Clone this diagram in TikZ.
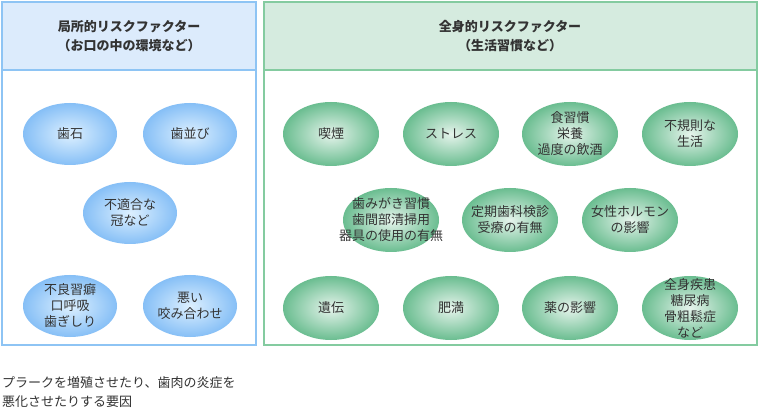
\documentclass[tikz,border=0pt]{standalone}
\usepackage{fontspec}
\setmainfont{Noto Sans CJK JP}
\usetikzlibrary{shapes.geometric}
\definecolor{bbor}{HTML}{8EC4F4}
\definecolor{bhead}{HTML}{DCEBFC}
\definecolor{gbor}{HTML}{84CBA0}
\definecolor{ghead}{HTML}{D5EBDF}
\definecolor{bout}{HTML}{86BFF6}
\definecolor{bin}{HTML}{DDF0FF}
\definecolor{gout}{HTML}{6ABD90}
\definecolor{gin}{HTML}{E6F4EC}
\definecolor{txt}{HTML}{333333}
\tikzset{
 x=1pt,y=-1pt,
 bel/.style={ellipse,minimum width=94pt,minimum height=62pt,inner sep=0pt,inner color=bin,outer color=bout},
 gel/.style={ellipse,minimum width=96pt,minimum height=64pt,inner sep=0pt,inner color=gin,outer color=gout},
 lbl/.style={align=center,inner sep=0pt,font=\fontsize{13}{16}\selectfont,text=txt},
 head/.style={font=\bfseries\fontsize{13}{19}\selectfont,align=center,text=txt}
}
\begin{document}
\begin{tikzpicture}
\useasboundingbox (0,0) rectangle (770,411);
\fill[white] (0,0) rectangle (770,411);
\fill[bhead] (2,2) rectangle (256,70);
\draw[bbor,line width=2pt] (2,2) rectangle (256,345);
\draw[bbor,line width=2pt] (2,70) -- (256,70);
\node[head] (lh) at (129,36) {局所的リスクファクター\\（お口の中の環境など）};
\fill[ghead] (264,2) rectangle (757,70);
\draw[gbor,line width=2pt] (264,2) rectangle (757,345);
\draw[gbor,line width=2pt] (264,70) -- (757,70);
\node[head] (rh) at (510,36) {全身的リスクファクター\\（生活習慣など）};
\node[bel] (a1) at (70,134) {};  \node[lbl] at (a1) {歯石};
\node[bel] (a2) at (190,134) {}; \node[lbl] at (a2) {歯並び};
\node[bel] (a3) at (130,213) {}; \node[lbl] at (a3) {不適合な\\冠など};
\node[bel] (a4) at (70,306) {};  \node[lbl] at (a4) {不良習癖\\口呼吸\\歯ぎしり};
\node[bel] (a5) at (190,306) {}; \node[lbl] at (a5) {悪い\\咬み合わせ};
\node[gel] (b1) at (331,134) {}; \node[lbl] at (b1) {喫煙};
\node[gel] (b2) at (451,134) {}; \node[lbl] at (b2) {ストレス};
\node[gel] (b3) at (570,134) {}; \node[lbl] at (b3) {食習慣\\栄養\\過度の飲酒};
\node[gel] (b4) at (690,134) {}; \node[lbl] at (b4) {不規則な\\生活};
\node[gel] (b5) at (391,220) {}; \node[lbl] at (b5) {歯みがき習慣\\歯間部清掃用\\器具の使用の有無};
\node[gel] (b6) at (510,220) {}; \node[lbl] at (b6) {定期歯科検診\\受療の有無};
\node[gel] (b7) at (630,220) {}; \node[lbl] at (b7) {女性ホルモン\\の影響};
\node[gel] (b8) at (331,308) {}; \node[lbl] at (b8) {遺伝};
\node[gel] (b9) at (451,308) {}; \node[lbl] at (b9) {肥満};
\node[gel] (b10) at (570,308) {}; \node[lbl] at (b10) {薬の影響};
\node[gel] (b11) at (690,308) {}; \node[lbl] at (b11) {全身疾患\\糖尿病\\骨粗鬆症\\など};
\node[anchor=north west,align=left,inner sep=0pt,font=\fontsize{13}{19}\selectfont,text=txt] (cap) at (2,376) {プラークを増殖させたり、歯肉の炎症を\\悪化させたりする要因};
\end{tikzpicture}
\end{document}
